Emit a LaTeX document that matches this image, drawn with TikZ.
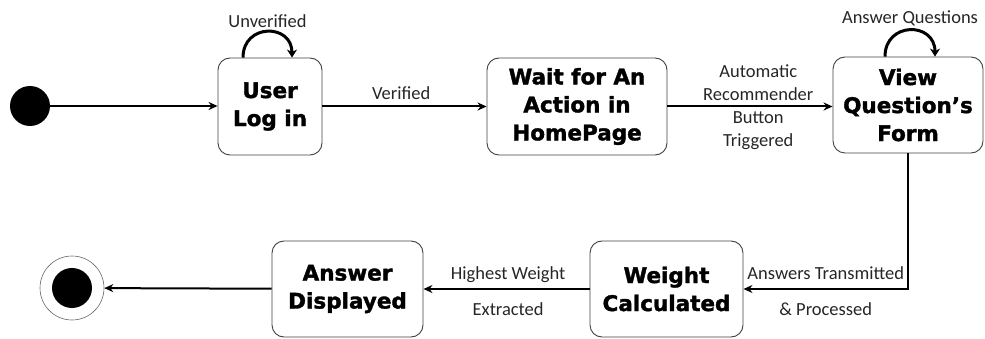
\documentclass[tikz,border=0pt]{standalone}
\usepackage{fontspec}
\setmainfont{Carlito}
\newfontfamily\heavyfont{DejaVu Sans}[BoldFont={DejaVu Sans Bold},BoldFeatures={FakeBold=1.6}]
\usetikzlibrary{arrows.meta,calc}
\begin{document}
\begin{tikzpicture}[x=1pt,y=-1pt,
  statebox/.style={draw=black!75,line width=0.9pt,rounded corners=12pt,
    align=center,inner sep=0pt,font=\heavyfont\bfseries\fontsize{21.5}{28}\selectfont},
  flow/.style={line width=2pt,-{Stealth[length=9pt,width=8pt]}},
  selfloop/.style={line width=3pt,-{Stealth[length=8pt,width=10pt]}},
  lbl/.style={font=\fontsize{18.5}{23}\selectfont,align=center,text=black!85,inner sep=2pt},
  lblsplit/.style={lbl,font=\fontsize{18.5}{36}\selectfont}]
\useasboundingbox (0,0) rectangle (985,339);

% start and end points
\node[circle,fill=black,minimum size=40pt,inner sep=0pt] (init) at (30,106) {};
\node[circle,draw=black!60,line width=0.6pt,minimum size=64pt,inner sep=0pt] (final) at (72,288) {};
\node[circle,fill=black,minimum size=40pt,inner sep=0pt] (finaldot) at (final.center) {};

% states
\node[statebox,minimum width=104pt,minimum height=97pt] (user) at (270,106.5) {User\\Log in};
\node[statebox,minimum width=180pt,minimum height=97pt] (wait) at (577,106.5) {Wait for An\\Action in\\HomePage};
\node[statebox,minimum width=150pt,minimum height=96pt] (view) at (908,105) {View\\Question’s\\Form};
\node[statebox,minimum width=153pt,minimum height=96pt] (weight) at (666.5,289) {Weight\\Calculated};
\node[statebox,minimum width=151pt,minimum height=96pt] (answer) at (347.5,289) {Answer\\Displayed};

% transitions
\draw[flow] (init.east) -- (user.west |- init.east);
\draw[flow] (user) -- node[lbl,above=4pt,pos=0.48] (lverified) {Verified} (wait);
\draw[flow] (wait.east) -- node[lbl,pos=0.55,yshift=-1pt] (lauto)
  {Automatic\\Recommender\\Button\\Triggered} (view.west |- wait.east);
\draw[flow] (view.south) |- node[lblsplit,pos=0.75,yshift=-2pt] (lanswers)
  {Answers Transmitted\\\& Processed} (weight.east);
\draw[flow] (weight) -- node[lblsplit,pos=0.49,yshift=-2pt] (lhighest)
  {Highest Weight\\Extracted} (answer);
\draw[flow] (answer) -- (final);

% self transitions
\draw[selfloop] ([xshift=-27pt]user.north) to[out=90,in=90,looseness=1.8]
  node[lbl,above=1pt] (lunverified) {Unverified} ([xshift=22pt]user.north);
\draw[selfloop] ([xshift=-23pt]view.north) to[out=90,in=90,looseness=1.8]
  node[lbl,above=1pt] (lanswerq) {Answer Questions} ([xshift=27pt]view.north);
\end{tikzpicture}
\end{document}
